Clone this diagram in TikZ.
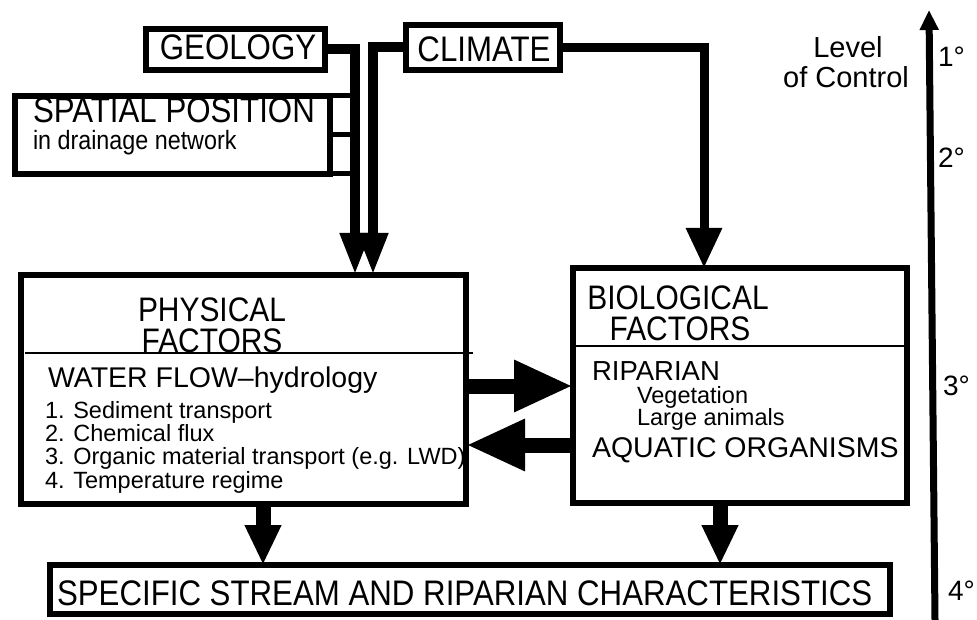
\documentclass[tikz,border=0pt]{standalone}
\usepackage{fontspec}
\setmainfont{Liberation Sans}
\newfontfamily\hdr[FakeStretch=0.88]{Liberation Sans}
\usetikzlibrary{arrows.meta}
\begin{document}
\begin{tikzpicture}[x=1pt,y=-1pt,
  box/.style={draw, line width=6pt, inner sep=0pt, outer sep=0pt, anchor=north west},
  divline/.style={line width=2.5pt},
  txt/.style={inner sep=0pt, outer sep=0pt, anchor=base west},
  hd/.style={txt, font=\hdr\fontsize{35.5}{35.5}\selectfont},
  hdb/.style={txt, font=\hdr\fontsize{34}{34}\selectfont},
  bigtxt/.style={txt, font=\fontsize{28.5}{28.5}\selectfont},
  smalltxt/.style={txt, font=\fontsize{23.5}{23.5}\selectfont},
  degtxt/.style={txt, font=\fontsize{28}{28}\selectfont},
  thin/.style={line width=10pt, -{Triangle[length=42pt,width=28pt]}},
  thick/.style={line width=15pt, -{Triangle[length=40pt,width=34pt]}},
  side/.style={line width=15pt, -{Triangle[length=59pt,width=48pt]}},
  linkline/.style={line width=5pt}
]
\useasboundingbox (0,0) rectangle (977,620);
\fill[white] (0,0) rectangle (977,620);

% boxes
\node[box, minimum width=179pt, minimum height=41pt] (geo) at (146,29) {};
\node[box, minimum width=154pt, minimum height=45pt] (clim) at (406,25) {};
\node[box, minimum width=315pt, minimum height=78pt] (sp) at (15,96) {};
\node[box, minimum width=445pt, minimum height=229pt] (phys) at (21,275) {};
\node[box, minimum width=334pt, minimum height=235pt] (bio) at (573,268) {};
\node[box, minimum width=840pt, minimum height=49pt] (spec) at (50,565) {};

% dividers
\coordinate (pdl) at (25,353);
\coordinate (pdr) at (473,353);
\draw[divline] (pdl) -- (pdr);
\coordinate (bdy) at (0,346);
\draw[divline] (bio.west |- bdy) -- (bio.east |- bdy);

% texts
\node[hd, anchor=base] (tgeo) at (238,60) {GEOLOGY};
\node[hd, anchor=base] (tclim) at (484,62) {CLIMATE};
\node[hd] (tsp) at (33,123) {SPATIAL POSITION};
\node[txt, font=\hdr\fontsize{26.5}{26.5}\selectfont] (tsp2) at (33,150) {in drainage network};
\node[hdb, anchor=base] (tphys1) at (212,321) {PHYSICAL};
\node[hdb, anchor=base] (tphys2) at (212,352) {FACTORS};
\node[bigtxt] (twf) at (48,387) {WATER FLOW--hydrology};
\node[smalltxt] (ti1) at (45,418) {1. Sediment transport};
\node[smalltxt] (ti2) at (45,441) {2. Chemical flux};
\node[smalltxt] (ti3) at (45,464) {3. Organic material transport (e.g. LWD)};
\node[smalltxt] (ti4) at (45,488) {4. Temperature regime};
\node[hdb, anchor=base] (tbio1) at (678,309) {BIOLOGICAL};
\node[hdb, anchor=base] (tbio2) at (680,340) {FACTORS};
\node[txt, font=\fontsize{27.5}{27.5}\selectfont] (trip) at (592,380) {RIPARIAN};
\node[smalltxt] (tveg) at (637,403) {Vegetation};
\node[smalltxt] (tani) at (637,425) {Large animals};
\node[bigtxt] (taq) at (592,457) {AQUATIC ORGANISMS};
\node[txt, font=\hdr\fontsize{35.5}{35.5}\selectfont] (tspec) at (57,605) {SPECIFIC STREAM AND RIPARIAN CHARACTERISTICS};
\node[txt, anchor=base, font=\fontsize{29}{29}\selectfont] (tlv1) at (848,58) {Level};
\node[txt, anchor=base, font=\fontsize{29}{29}\selectfont] (tlv2) at (846,88) {of Control};
\node[degtxt] (d1) at (938,67) {1°};
\node[degtxt] (d2) at (938,168) {2°};
\node[degtxt] (d3) at (943,395) {3°};
\node[degtxt] (d4) at (948,600) {4°};

% helper coordinates
\coordinate (gx) at (355,0);
\coordinate (cx) at (373,0);
\coordinate (crx) at (704,0);
\coordinate (px) at (263,0);
\coordinate (bx) at (720,0);
\coordinate (ry) at (0,386);
\coordinate (ly) at (0,445);
\coordinate (lvb) at (935,620);
\coordinate (lvt) at (929,10);

% spatial position links into the geology line
\draw[linkline] (sp.north east) -- (sp.north east -| gx);
\draw[linkline] (sp.east) -- (sp.east -| gx);
\draw[linkline] (sp.south east) -- (sp.south east -| gx);

% connectors
\draw[thin] (geo.east) -| (phys.north -| gx);
\draw[thin] (clim.west) -| (phys.north -| cx);
\draw[line width=9pt, -{Triangle[length=40pt,width=34pt]}] (clim.east) -| (bio.north -| crx);
\draw[side] (phys.east |- ry) -- (bio.west |- ry);
\draw[side] (bio.west |- ly) -- (phys.east |- ly);
\draw[thick] (phys.south -| px) -- (spec.north -| px);
\draw[thick] (bio.south -| bx) -- (spec.north -| bx);

% level of control arrow
\draw[line width=7pt, -{Triangle[length=20pt,width=18pt]}] (lvb) -- (lvt);
\end{tikzpicture}
\end{document}
